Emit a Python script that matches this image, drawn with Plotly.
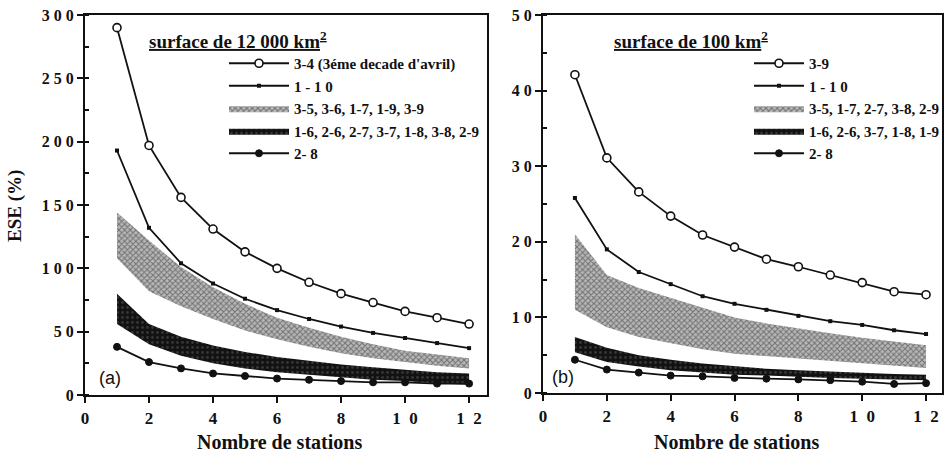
import plotly.graph_objects as go

# ---------------- data ----------------
stations = [1, 2, 3, 4, 5, 6, 7, 8, 9, 10, 11, 12]

# panel (a) : surface de 12 000 km2
a_34 = [290, 197, 156, 131, 113, 100, 89, 80, 73, 66, 61, 56]
a_110 = [193, 132, 104, 88, 76, 67, 60, 54, 49, 45, 41, 37]
a_light_hi = [144, 122, 101, 85, 72, 61, 53, 46, 40, 35, 32, 29]
a_light_lo = [108, 82, 70, 60, 51, 44, 38, 33, 29, 26, 23, 21]
a_dark_hi = [80, 56, 46, 39, 34, 30, 27, 24, 22, 20, 18, 17]
a_dark_lo = [56, 40, 31, 25, 21, 18, 16, 14, 12, 11, 9, 8]
a_28 = [38, 26, 21, 17, 15, 13, 12, 11, 10, 10, 9, 9]

# panel (b) : surface de 100 km2
b_39 = [42.1, 31.1, 26.6, 23.4, 20.9, 19.3, 17.7, 16.7, 15.6, 14.6, 13.4, 13.0]
b_110 = [25.8, 19.0, 16.0, 14.4, 12.8, 11.8, 11.0, 10.2, 9.5, 9.0, 8.3, 7.8]
b_light_hi = [21.0, 15.6, 13.9, 12.6, 11.2, 10.0, 9.2, 8.5, 7.9, 7.3, 6.8, 6.3]
b_light_lo = [11.0, 8.7, 7.4, 6.6, 5.8, 5.2, 4.9, 4.6, 4.3, 4.0, 3.6, 3.3]
b_dark_hi = [7.4, 6.0, 5.0, 4.4, 3.9, 3.5, 3.2, 3.0, 2.8, 2.6, 2.5, 2.4]
b_dark_lo = [5.4, 4.1, 3.5, 3.0, 2.7, 2.4, 2.3, 2.1, 2.0, 1.9, 1.8, 1.7]
b_28 = [4.4, 3.1, 2.7, 2.3, 2.2, 2.0, 1.9, 1.8, 1.7, 1.5, 1.2, 1.3]

names_a = ["3-4 (3éme decade d'avril)", "1 - 1 0", "3-5, 3-6, 1-7, 1-9, 3-9",
           "1-6, 2-6, 2-7, 3-7, 1-8, 3-8, 2-9", "2- 8"]
names_b = ["3-9", "1 - 1 0", "3-5, 1-7, 2-7, 3-8, 2-9",
           "1-6, 2-6, 3-7, 1-8, 1-9", "2- 8"]

xtick_vals = [0, 2, 4, 6, 8, 10, 12]
xtick_text = ["0", "2", "4", "6", "8", "1\u00a0\u00a00", "1\u00a0\u00a02"]
ya_vals = [0, 50, 100, 150, 200, 250, 300]
ya_text = ["0", "5\u00a00", "1\u00a00\u00a00", "1\u00a05\u00a00", "2\u00a00\u00a00",
           "2\u00a05\u00a00", "3\u00a00\u00a00"]
yb_vals = [0, 10, 20, 30, 40, 50]
yb_text = ["0", "1\u00a00", "2\u00a00", "3\u00a00", "4\u00a00", "5\u00a00"]

SERIF = "Liberation Serif, Times New Roman, serif"
BLACK = "#111111"

fig = go.Figure()


def add_panel(xa, ya, leg, s_top, s_110, lhi, llo, dhi, dlo, s28, names):
    fig.add_trace(go.Scatter(
        x=stations, y=s_top, mode="lines+markers", name=names[0],
        xaxis=xa, yaxis=ya, legend=leg,
        line=dict(color=BLACK, width=1.8),
        marker=dict(symbol="circle", size=8, color="white",
                    line=dict(color=BLACK, width=1.6))))
    fig.add_trace(go.Scatter(
        x=stations, y=s_110, mode="lines+markers", name=names[1],
        xaxis=xa, yaxis=ya, legend=leg,
        line=dict(color=BLACK, width=1.8),
        marker=dict(symbol="square", size=4, color=BLACK)))
    fig.add_trace(go.Scatter(
        x=stations, y=llo, mode="lines", showlegend=False, hoverinfo="skip",
        xaxis=xa, yaxis=ya, legend=leg, line=dict(width=0, color="rgba(0,0,0,0)")))
    fig.add_trace(go.Scatter(
        x=stations, y=lhi, mode="lines", name=names[2], fill="tonexty",
        xaxis=xa, yaxis=ya, legend=leg, line=dict(width=0, color="rgba(0,0,0,0)"),
        fillcolor="#8a8a8a",
        fillpattern=dict(shape="x", fgcolor="#2a2a2a", bgcolor="#b8b8b8",
                         size=4, solidity=0.45)))
    fig.add_trace(go.Scatter(
        x=stations, y=dlo, mode="lines", showlegend=False, hoverinfo="skip",
        xaxis=xa, yaxis=ya, legend=leg, line=dict(width=0, color="rgba(0,0,0,0)")))
    fig.add_trace(go.Scatter(
        x=stations, y=dhi, mode="lines", name=names[3], fill="tonexty",
        xaxis=xa, yaxis=ya, legend=leg, line=dict(width=0, color="rgba(0,0,0,0)"),
        fillcolor="#151515",
        fillpattern=dict(shape=".", fgcolor="#5a5a5a", bgcolor="#121212",
                         size=5, solidity=0.25)))
    fig.add_trace(go.Scatter(
        x=stations, y=s28, mode="lines+markers", name=names[4],
        xaxis=xa, yaxis=ya, legend=leg,
        line=dict(color=BLACK, width=1.8),
        marker=dict(symbol="circle", size=7, color=BLACK,
                    line=dict(color=BLACK, width=1))))


add_panel("x", "y", "legend", a_34, a_110, a_light_hi, a_light_lo,
          a_dark_hi, a_dark_lo, a_28, names_a)
add_panel("x2", "y2", "legend2", b_39, b_110, b_light_hi, b_light_lo,
          b_dark_hi, b_dark_lo, b_28, names_b)

axis_common = dict(showline=True, linecolor=BLACK, linewidth=2, mirror=True,
                   showgrid=False, zeroline=False, ticks="outside", ticklen=6,
                   tickwidth=1.5, tickcolor=BLACK, automargin=False)
xfont = dict(family=SERIF, size=17, color=BLACK, weight="bold")
yfont = dict(family=SERIF, size=16, color=BLACK, weight="bold")

fig.update_layout(
    width=944, height=454,
    margin=dict(l=0, r=0, t=0, b=0, pad=0),
    paper_bgcolor="white", plot_bgcolor="white",
    showlegend=True,
    xaxis=dict(domain=[85 / 944, 487 / 944], range=[0, 12.56], anchor="y",
               tickvals=xtick_vals, ticktext=xtick_text, tickfont=xfont,
               ticklabelstandoff=1, **axis_common),
    yaxis=dict(domain=[(454 - 395) / 454, (454 - 15) / 454], range=[0, 300],
               anchor="x", tickvals=ya_vals, ticktext=ya_text, tickfont=yfont,
               minor=dict(dtick=25, ticks="inside", ticklen=4, tickcolor=BLACK),
               **axis_common),
    xaxis2=dict(domain=[543 / 944, 942 / 944], range=[0, 12.5], anchor="y2",
                tickvals=xtick_vals, ticktext=xtick_text, tickfont=xfont,
                ticklabelstandoff=1, **axis_common),
    yaxis2=dict(domain=[(454 - 393) / 454, (454 - 15) / 454], range=[0, 50],
                anchor="x2", tickvals=yb_vals, ticktext=yb_text, tickfont=yfont,
                minor=dict(dtick=5, ticks="inside", ticklen=4, tickcolor=BLACK),
                **axis_common),
    legend=dict(x=224 / 944, y=(454 - 47) / 454, xanchor="left", yanchor="top",
                bgcolor="rgba(0,0,0,0)", borderwidth=0, itemwidth=60,
                tracegroupgap=0, traceorder="normal",
                font=dict(family=SERIF, size=15, color=BLACK, weight="bold")),
    legend2=dict(x=749 / 944, y=(454 - 47) / 454, xanchor="left", yanchor="top",
                 bgcolor="rgba(0,0,0,0)", borderwidth=0, itemwidth=50,
                 tracegroupgap=0, traceorder="normal",
                 font=dict(family=SERIF, size=15, color=BLACK, weight="bold")),
)

ann_font = dict(family=SERIF, size=19, color=BLACK, weight="bold")
fig.add_annotation(text="<u>surface de 12 000 km<sup>2</sup></u>", x=238 / 944,
                   y=(454 - 40) / 454, xref="paper", yref="paper", showarrow=False,
                   font=ann_font, xanchor="center", yanchor="middle")
fig.add_annotation(text="<u>surface de 100 km<sup>2</sup></u>", x=691 / 944,
                   y=(454 - 40) / 454, xref="paper", yref="paper", showarrow=False,
                   font=ann_font, xanchor="center", yanchor="middle")
fig.add_annotation(text="ESE (%)", x=15 / 944, y=(454 - 206) / 454,
                   xref="paper", yref="paper", showarrow=False, textangle=-90,
                   font=dict(family=SERIF, size=19, color=BLACK, weight="bold"),
                   xanchor="center", yanchor="middle")
for cx in (279, 736):
    fig.add_annotation(text="Nombre de stations", x=cx / 944, y=(454 - 442) / 454,
                       xref="paper", yref="paper", showarrow=False,
                       font=dict(family=SERIF, size=20, color=BLACK, weight="bold"),
                       xanchor="center", yanchor="middle")
fig.add_annotation(text="(a)", x=110 / 944, y=(454 - 378) / 454, xref="paper",
                   yref="paper", showarrow=False,
                   font=dict(family="Liberation Sans, Arial, sans-serif", size=18,
                             color=BLACK), xanchor="center", yanchor="middle")
fig.add_annotation(text="(b)", x=563 / 944, y=(454 - 377) / 454, xref="paper",
                   yref="paper", showarrow=False,
                   font=dict(family="Liberation Sans, Arial, sans-serif", size=18,
                             color=BLACK), xanchor="center", yanchor="middle")

fig.write_html(
    "out.html",
    config={"displayModeBar": False},
    post_script="document.body.style.margin='0';document.body.style.padding='0';"
                "document.documentElement.style.overflow='hidden';",
)
